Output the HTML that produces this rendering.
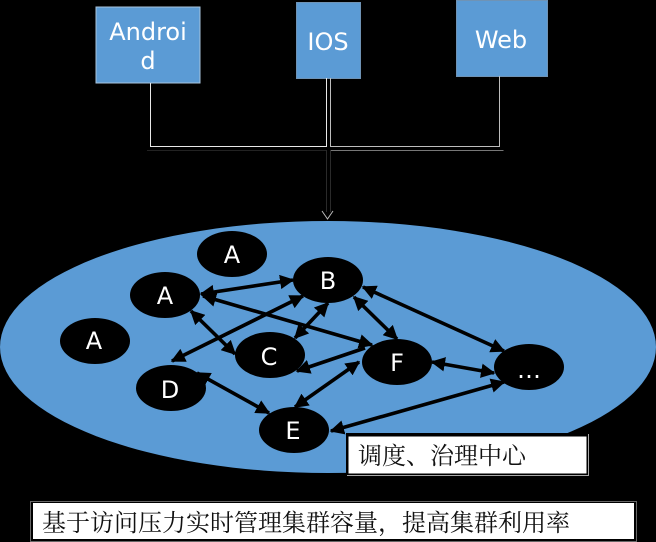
<!DOCTYPE html>
<html>
<head>
<meta charset="utf-8">
<style>
html,body{margin:0;padding:0;background:#000;}
svg{display:block;}
.w{font-family:"DejaVu Sans","Liberation Sans",sans-serif;font-size:24px;fill:#fff;text-anchor:middle;}
.c{font-family:"Liberation Serif","Noto Serif CJK SC",serif;font-size:24px;fill:#111;}
.a{stroke:#000;stroke-width:3.6;fill:none;marker-start:url(#h);marker-end:url(#h);}
</style>
</head>
<body>
<svg width="656" height="542" viewBox="0 0 656 542" xmlns="http://www.w3.org/2000/svg">
<defs>
<marker id="h" viewBox="0 0 10 10" refX="9" refY="5" markerWidth="4" markerHeight="4" orient="auto-start-reverse">
<path d="M0 0L10 5L0 10Z" fill="#000"/>
</marker>
</defs>
<rect width="656" height="542" fill="#000"/>

<!-- top boxes -->
<rect x="96" y="7" width="104" height="76" fill="#5b9bd5" stroke="#a9c4dd" stroke-width="1"/>
<rect x="296.5" y="2.5" width="64" height="76" fill="#5b9bd5" stroke="#6f93b5" stroke-width="1"/>
<rect x="456.5" y="0.5" width="91" height="76" fill="#5b9bd5" stroke="#6f93b5" stroke-width="1"/>
<text class="w" x="148" y="40">Androi</text>
<text class="w" x="148" y="69">d</text>
<text class="w" x="328" y="50">IOS</text>
<text class="w" x="501" y="48">Web</text>

<!-- connectors -->
<path d="M150.5 83V146.5H326.5V78" fill="none" stroke="#e8e8e8" stroke-width="1"/>
<path d="M330.5 78V146.5H499.5V76" fill="none" stroke="#bdbdbd" stroke-width="1"/>
<path d="M147 150.5H326.5" fill="none" stroke="#222" stroke-width="1"/>
<path d="M330.5 150.5H503.5" fill="none" stroke="#777" stroke-width="1"/>
<path d="M326.5 150V212M330.5 150V212" fill="none" stroke="#2a2a2a" stroke-width="1"/>
<path d="M322 211L327.5 219L333 211" fill="none" stroke="#bbb" stroke-width="1"/>

<!-- main ellipse -->
<ellipse cx="328" cy="347" rx="328" ry="126" fill="#5b9bd5"/>

<!-- arrows -->
<line class="a" x1="201" y1="294" x2="293" y2="280"/>
<line class="a" x1="203" y1="296" x2="372" y2="345"/>
<line class="a" x1="303" y1="296" x2="172" y2="361"/>
<line class="a" x1="191" y1="311" x2="235" y2="354"/>
<line class="a" x1="295" y1="338" x2="328" y2="303"/>
<line class="a" style="marker-end:none" x1="297" y1="371" x2="365" y2="348"/>
<line class="a" x1="197" y1="373" x2="269" y2="413"/>
<line class="a" x1="295" y1="407" x2="359" y2="362"/>
<line class="a" x1="354" y1="297" x2="397" y2="339"/>
<line class="a" x1="363" y1="287" x2="504" y2="351"/>
<line class="a" x1="432" y1="362" x2="494" y2="373"/>
<line class="a" x1="331" y1="431" x2="504" y2="382"/>

<!-- nodes -->
<g fill="#000">
<ellipse cx="232" cy="254" rx="35" ry="23"/>
<ellipse cx="165" cy="295" rx="35" ry="23"/>
<ellipse cx="328" cy="280" rx="35" ry="23"/>
<ellipse cx="95" cy="341" rx="35" ry="23"/>
<ellipse cx="270" cy="355" rx="35" ry="23"/>
<ellipse cx="171" cy="388" rx="35" ry="23"/>
<ellipse cx="294" cy="430" rx="35" ry="23"/>
<ellipse cx="397" cy="362" rx="35" ry="23"/>
<ellipse cx="529" cy="367" rx="35" ry="23"/>
</g>
<text class="w" x="232" y="263">A</text>
<text class="w" x="165" y="304">A</text>
<text class="w" x="328" y="289">B</text>
<text class="w" x="94" y="349">A</text>
<text class="w" x="269" y="365">C</text>
<text class="w" x="170" y="398">D</text>
<text class="w" x="293" y="439">E</text>
<text class="w" x="397" y="371">F</text>
<text class="w" x="529" y="378">…</text>

<!-- label boxes -->
<rect x="346" y="433" width="243" height="43" fill="#000"/>
<rect x="348.5" y="436.5" width="238" height="37" fill="#fff"/>
<path d="M588.5 434V475.5H347" fill="none" stroke="#aaa" stroke-width="1"/>
<text class="c" x="358" y="464">调度、治理中心</text>

<rect x="30.5" y="501.5" width="606" height="40" fill="#000" stroke="#666" stroke-width="1"/>
<rect x="33" y="503" width="601" height="36" fill="#fff"/>
<text class="c" x="42" y="531">基于访问压力实时管理集群容量，提高集群利用率</text>
</svg>
</body>
</html>
